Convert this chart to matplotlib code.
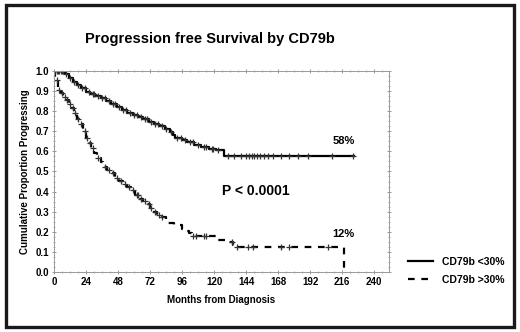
import numpy as np
import matplotlib.pyplot as plt
from matplotlib.patches import Rectangle
from matplotlib.ticker import MultipleLocator

plt.rcParams['font.family'] = ['Liberation Sans', 'DejaVu Sans']

# CD79b <30% : step times (months) and survival values
low_t = [0, 8, 11, 14, 17, 20, 24, 27, 31, 35, 39, 43, 47, 51, 55, 59, 63, 67, 71, 75,
         79, 83, 87, 89, 91, 96, 100, 105, 110, 116, 121, 127, 225]
low_s = [1.0, 0.985, 0.965, 0.945, 0.93, 0.915, 0.895, 0.885, 0.875, 0.865, 0.85, 0.835,
         0.82, 0.805, 0.79, 0.78, 0.77, 0.76, 0.748, 0.735, 0.725, 0.712, 0.698, 0.68,
         0.665, 0.655, 0.645, 0.632, 0.622, 0.612, 0.605, 0.578, 0.578]
low_cens = [1, 2, 3, 4, 5, 6, 7, 9, 12, 15, 18, 21, 23, 26, 29, 30, 33, 36, 38, 41, 44,
            46, 49, 52, 54, 57, 60, 62, 65, 68, 70, 73, 76, 78, 81, 84, 88, 92, 95, 98,
            102, 104, 108, 112, 114, 118, 119, 123, 130, 135, 140, 144, 146, 148, 150,
            152, 154, 157, 160, 164, 170, 176, 183, 190, 208, 224]

# CD79b >30%
high_t = [0, 1, 3, 5, 7, 9, 11, 13, 15, 17, 19, 22, 24, 26, 28, 30, 32, 35, 37, 40, 43,
          46, 49, 52, 55, 58, 61, 64, 67, 70, 72, 74, 77, 80, 84, 90, 96, 99, 101, 103,
          122, 130, 134, 136, 217, 217]
high_s = [1.0, 0.955, 0.905, 0.89, 0.87, 0.856, 0.835, 0.816, 0.79, 0.76, 0.735, 0.7,
          0.667, 0.64, 0.615, 0.59, 0.567, 0.545, 0.524, 0.505, 0.49, 0.47, 0.455, 0.44,
          0.425, 0.41, 0.385, 0.365, 0.352, 0.338, 0.32, 0.3, 0.285, 0.275, 0.243, 0.234,
          0.215, 0.205, 0.194, 0.178, 0.16, 0.148, 0.135, 0.123, 0.123, 0.0]
high_cens = [2, 4, 6, 8, 10, 12, 14, 16, 18, 20, 23, 25, 27, 29, 33, 38, 41, 44, 47, 50,
             53, 56, 59, 62, 63, 65, 68, 71, 73, 76, 79, 81, 104, 106, 112, 114, 133,
             137, 145, 149, 170, 176, 205]


def step_at(ts, ss, x):
    i = np.searchsorted(ts, x, side='right') - 1
    return np.array(ss)[i]


fig = plt.figure(figsize=(5.2, 3.32), dpi=100)
ax = fig.add_axes([0.104, 0.181, 0.644, 0.605])

ax.step(low_t, low_s, where='post', color='black', lw=1.6, label='CD79b <30%')
ax.step(high_t, high_s, where='post', color='black', lw=1.6, linestyle=(0, (3, 3)),
        label='CD79b >30%')
ax.plot(low_cens, step_at(low_t, low_s, low_cens), '+', color='#333333', ms=4, mew=0.9)
ax.plot(high_cens, step_at(high_t[:-1], high_s[:-1], high_cens), '+', color='#333333',
        ms=4, mew=0.9)

ax.text(217, 0.625, '58%', ha='center', va='bottom', fontsize=8, fontweight='bold')
ax.text(217, 0.165, '12%', ha='center', va='bottom', fontsize=8, fontweight='bold')
ax.text(126, 0.405, 'P < 0.0001', ha='left', va='center', fontsize=10, fontweight='bold')

ax.set_xlim(0, 251)
ax.set_ylim(0, 1.0)
ax.set_xticks(np.arange(0, 241, 24))
ax.set_yticks(np.arange(0, 1.01, 0.1))
ax.set_yticklabels([f'{v:.1f}' for v in np.arange(0, 1.01, 0.1)])
ax.xaxis.set_minor_locator(MultipleLocator(6))
ax.yaxis.set_minor_locator(MultipleLocator(0.025))
for lab in ax.get_xticklabels() + ax.get_yticklabels():
    lab.set_fontweight('bold')
ax.tick_params(which='both', direction='inout', colors='#888888', labelcolor='black',
               labelsize=7, top=True, right=True, pad=2)
ax.tick_params(which='major', length=3, width=0.6)
ax.tick_params(which='minor', length=2, width=0.5)
for sp in ax.spines.values():
    sp.set_color('#999999')
    sp.set_linewidth(0.7)

ax.set_xlabel('Months from Diagnosis', fontsize=7, fontweight='bold', labelpad=6)
ax.set_ylabel('Cumulative Proportion Progressing', fontsize=7, fontweight='bold',
              labelpad=4)

fig.text(0.403, 0.882, 'Progression free Survival by CD79b', ha='center', va='center',
         fontsize=10.5, fontweight='bold')

fig.legend(loc='center left', bbox_to_anchor=(0.767, 0.184), frameon=False,
           prop={'weight': 'bold', 'size': 7.5}, handlelength=2.4,
           labelspacing=0.75)

fig.patches.append(Rectangle((0.012, 0.015), 0.976, 0.97, transform=fig.transFigure,
                             fill=False, edgecolor='#1a1a1a', lw=2.4))

fig.savefig('out.png', dpi=100)
